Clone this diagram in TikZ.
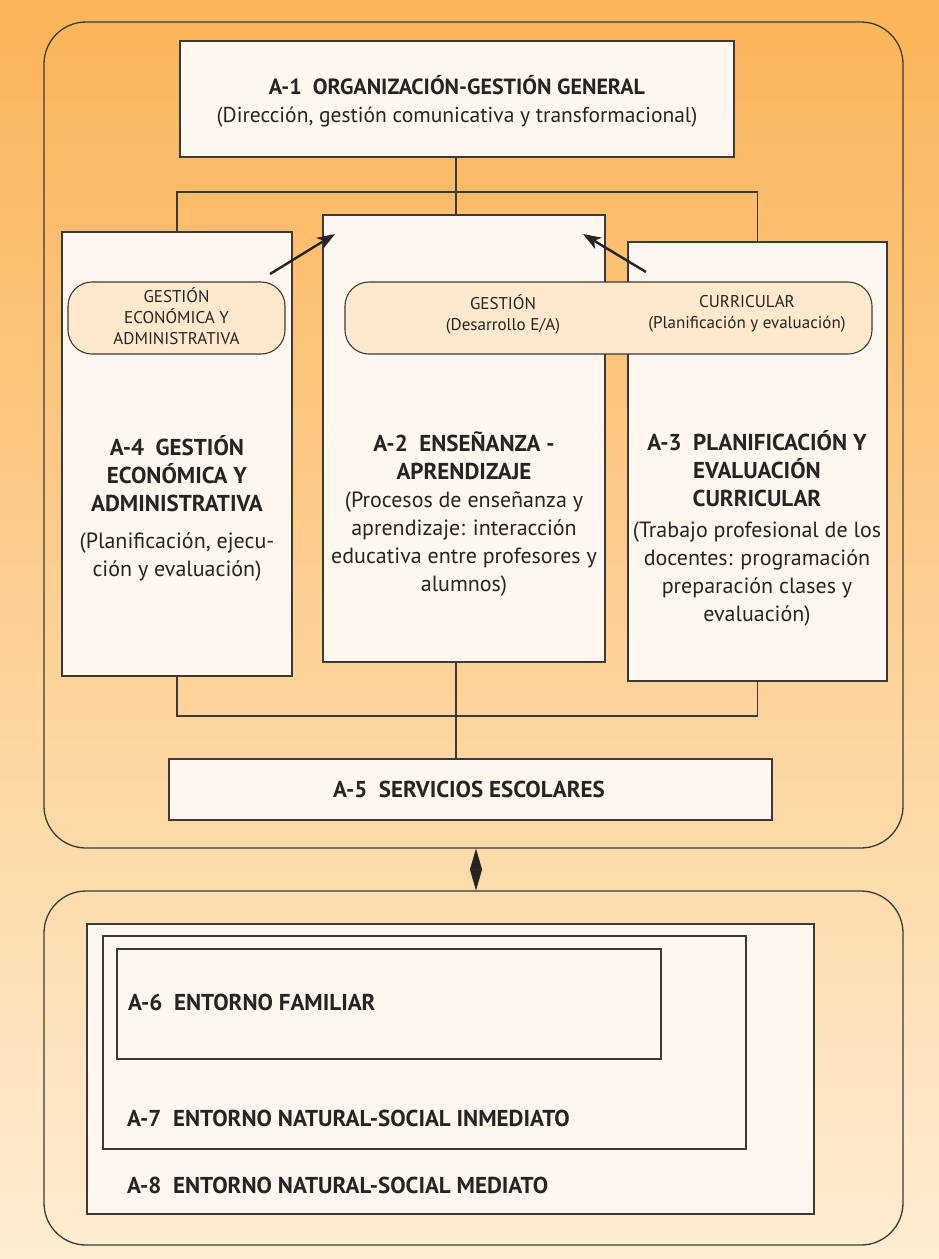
\documentclass[tikz,border=0pt]{standalone}
\usepackage{fontspec}
\setmainfont{PT Sans}
\usetikzlibrary{arrows.meta}

\definecolor{bgtop}{RGB}{251,180,88}
\definecolor{bgbot}{RGB}{254,237,210}
\definecolor{boxfill}{RGB}{254,247,240}
\definecolor{pillfill}{RGB}{254,233,204}
\definecolor{linec}{RGB}{60,58,55}
\definecolor{textc}{RGB}{38,36,34}

\tikzset{
  panel/.style={draw=linec, line width=1.3pt, rounded corners=42pt, inner sep=0pt},
  box/.style={draw=linec, line width=1.2pt, fill=boxfill, inner sep=0pt},
  pill/.style={draw=linec, line width=1.1pt, fill=pillfill, rounded corners=24pt, inner sep=0pt},
  link/.style={draw=linec, line width=1.2pt},
  pointer/.style={draw=textc, line width=2.4pt, -{Stealth[length=18pt,width=13pt,inset=5pt]}},
  swap/.style={draw=textc, fill=textc, line width=0.6pt,
    {Triangle[length=21pt,width=12pt]}-{Triangle[length=21pt,width=12pt]}},
  body/.style={text=textc, align=center, inner sep=0pt, font=\fontsize{22}{28}\selectfont},
  hd/.style={font=\fontsize{23}{28}\selectfont\bfseries},
  lefttext/.style={text=textc, anchor=west, inner sep=0pt, font=\fontsize{23}{28}\selectfont\bfseries},
  small/.style={text=textc, align=center, inner sep=0pt, font=\fontsize{17}{21}\selectfont},
}
\newcommand{\hdline}[1]{{\fontsize{23}{28}\selectfont\bfseries #1}}

\begin{document}
\begin{tikzpicture}[x=1pt,y=-1pt]
  \useasboundingbox (0,0) rectangle (939,1259);
  % page background
  \shade[top color=bgtop, bottom color=bgbot] (0,0) rectangle (939,1259);

  % the two rounded panels
  \node[panel, minimum width=859, minimum height=826] (top) at (473.5,435) {};
  \node[panel, minimum width=859, minimum height=354] (bottom) at (473.5,1068) {};

  % ---- upper panel: school areas ----
  \node[box, minimum width=554, minimum height=116] (a1) at (457,99) {};
  \node[body, font=\fontsize{21.5}{28}\selectfont] (a1t) at (457,101)
    {{\fontsize{22}{28}\selectfont\bfseries A-1\enspace ORGANIZACIÓN-GESTIÓN GENERAL}\\
     (Dirección, gestión comunicativa y transformacional)};

  \node[box, minimum width=230, minimum height=444] (a4) at (177,454) {};
  \node[box, minimum width=282, minimum height=447] (a2) at (464,438.5) {};
  \node[box, minimum width=259, minimum height=439] (a3) at (757.5,461.5) {};

  % links between A-1 and the three middle areas
  \coordinate (jt) at (456,192);
  \coordinate (jb) at (456,716);
  \draw[link] (a1.south -| jt) -- (a2.north -| jt);
  \draw[link] (a4.north) |- (jt) -| (a3.north);

  % management bands across the boxes
  \node[pill, minimum width=217, minimum height=72] (p1) at (176.5,318) {};
  \node[small] (p1t) at (176.5,316)
    {GESTIÓN\\ ECONÓMICA Y\\ ADMINISTRATIVA};
  \node[pill, minimum width=527, minimum height=72] (p2) at (608.5,318) {};
  \node[small] (p2a) at (503,314) {GESTIÓN\\ (Desarrollo E/A)};
  \node[small] (p2b) at (747,314) {CURRICULAR\\ (Planificación y evaluación)};

  % pointers into A-2
  \coordinate (l0) at (270,274);
  \coordinate (l1) at (335,234);
  \coordinate (r0) at (646,272);
  \coordinate (r1) at (583,234);
  \draw[pointer] (l0) -- (l1);
  \draw[pointer] (r0) -- (r1);

  % texts of the three middle areas
  \node[body] (a4t) at (177,508)
    {\hdline{A-4\enspace GESTIÓN}\\ \hdline{ECONÓMICA Y}\\ \hdline{ADMINISTRATIVA}\\[9pt]
     (Planificación, ejecu-\\ ción y evaluación)};
  \node[body] (a2t) at (464,514)
    {\hdline{A-2\enspace ENSEÑANZA -}\\ \hdline{APRENDIZAJE}\\
     (Procesos de enseñanza y\\ aprendizaje: interacción\\
     educativa entre profesores y\\ alumnos)};
  \node[body] (a3t) at (757,528)
    {\hdline{A-3\enspace PLANIFICACIÓN Y}\\ \hdline{EVALUACIÓN}\\ \hdline{CURRICULAR}\\[3pt]
     (Trabajo profesional de los\\ docentes: programación\\
     preparación clases y\\ evaluación)};

  % A-5 and its links
  \node[box, minimum width=603, minimum height=61] (a5) at (470.5,789.5) {};
  \node[body] (a5t) at (469,789) {\hdline{A-5\enspace SERVICIOS ESCOLARES}};
  \draw[link] (a4.south) |- (jb) -| (a3.south);
  \draw[link] (a2.south -| jb) -- (a5.north -| jb);

  % two-way exchange between the school and its surroundings
  \draw[swap] ([xshift=2.5pt]top.south) -- ([xshift=2.5pt]bottom.north);

  % ---- lower panel: nested surroundings ----
  \node[box, minimum width=727, minimum height=290] (a8) at (450.5,1069) {};
  \node[box, minimum width=643, minimum height=213] (a7) at (424.5,1042.5) {};
  \node[box, minimum width=544, minimum height=110] (a6) at (389,1004) {};
  \node[lefttext] (a6t) at (128,1002) {A-6\enspace ENTORNO FAMILIAR};
  \node[lefttext] (a7t) at (127,1118) {A-7\enspace ENTORNO NATURAL-SOCIAL INMEDIATO};
  \node[lefttext] (a8t) at (127,1185) {A-8\enspace ENTORNO NATURAL-SOCIAL MEDIATO};
\end{tikzpicture}
\end{document}
